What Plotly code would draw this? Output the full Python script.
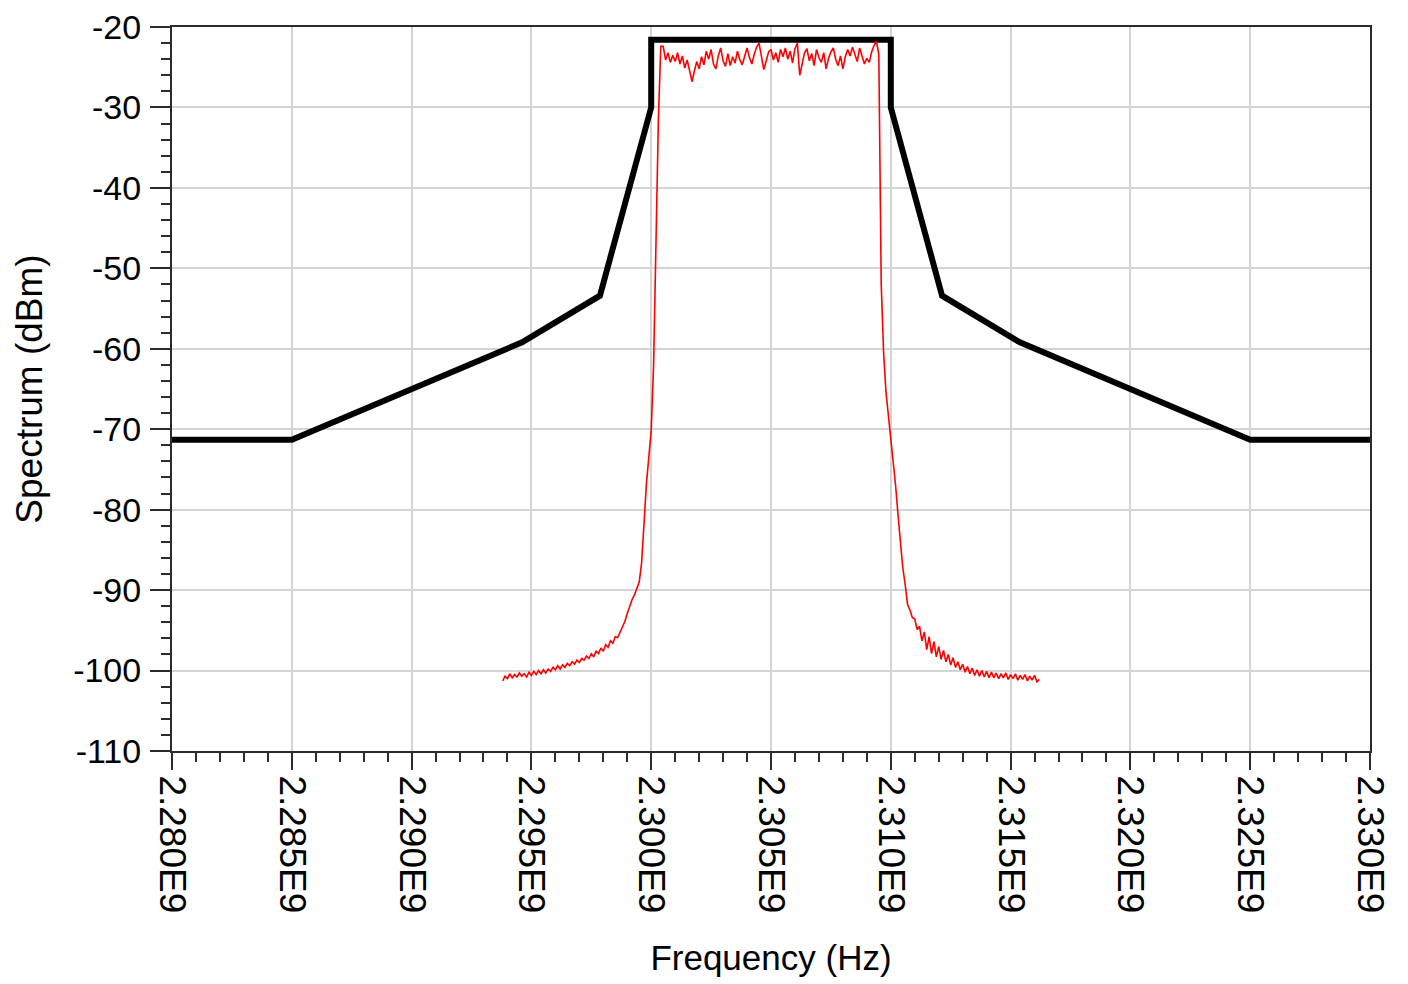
import numpy as np
import plotly.graph_objects as go

# ---- Data ----
# Spectrum mask (black), frequency in MHz, level in dBm
mask_freq_mhz = [2280.0, 2285.0, 2294.61, 2297.86, 2300.0, 2300.0,
                 2310.0, 2310.0, 2312.14, 2315.39, 2325.0, 2330.0]
mask_dbm = [-71.3, -71.3, -59.2, -53.4, -30.0, -21.6,
            -21.6, -30.0, -53.4, -59.2, -71.3, -71.3]

# Measured spectrum (red), sampled every 0.1 MHz from 2293.8 MHz
red_start_mhz = 2293.8
red_step_mhz = 0.1
red_left_skirt = [
    -101.3, -100.7, -101.0, -100.4, -100.9, -100.5, -100.8, -100.3, -100.7, -100.4,
    -100.8, -100.2, -100.6, -100.1, -100.5, -100.0, -100.4, -99.9, -100.3, -99.8,
    -100.1, -99.6, -99.9, -99.4, -99.8, -99.3, -99.6, -99.1, -99.4, -98.9,
    -99.2, -98.7, -99.0, -98.5, -98.7, -98.2, -98.5, -97.9, -98.3, -97.6,
    -97.9, -97.2, -97.6, -96.8, -97.1, -96.3, -96.6, -95.8, -95.9, -95.2,
    -94.6, -93.9, -92.9, -91.9, -91.2, -90.6, -89.9, -89.0, -86.6, -81.5,
    -76.8, -73.5, -70.2,
]
red_rise = [-62.0, -48.5, -31.5, -22.4]
red_top = [
    -22.4, -24.1, -23.2, -24.4, -23.5, -24.3, -23.2, -24.6, -23.6, -25.1,
    -24.1, -25.4, -26.8, -25.5, -24.3, -25.2, -23.7, -24.7, -23.0, -24.0,
    -22.8, -24.6, -25.2, -23.6, -22.6, -24.2, -24.9, -23.3, -24.8, -23.7,
    -24.5, -23.0, -24.1, -24.7, -23.5, -22.6, -23.8, -24.6, -23.4, -22.5,
    -22.0, -23.6, -25.3, -24.2, -23.1, -22.8, -24.1, -23.2, -24.4, -22.8,
    -23.7, -22.6, -24.0, -23.0, -24.5, -22.7, -22.0, -26.0, -24.6, -23.2,
    -22.7, -24.2, -23.3, -24.8, -22.8, -23.8, -24.4, -23.2, -25.2, -23.9,
    -23.1, -22.6, -24.0, -24.8, -23.6, -25.2, -23.7, -22.8, -23.6, -22.5,
    -23.4, -24.3, -22.6, -23.7, -24.6, -23.9, -24.4, -23.1, -22.3, -21.8,
    -23.4,
]
red_fall = [-52.0, -60.5, -65.4, -68.2]
red_right_skirt = [
    -71.0, -74.3, -77.0, -80.6, -84.1, -87.2, -89.3, -91.8, -92.5, -93.4,
    -93.6, -94.9, -94.5, -96.3, -95.2, -97.4, -95.8, -97.9, -96.4, -98.3,
    -97.0, -98.6, -97.5, -98.9, -98.0, -99.3, -98.4, -99.6, -98.9, -99.9,
    -99.2, -100.2, -99.5, -100.4, -99.7, -100.6, -99.9, -100.7, -100.0, -100.8,
    -100.1, -100.9, -100.2, -100.9, -100.3, -101.0, -100.4, -100.9, -100.3, -101.1,
    -100.5, -101.0, -100.4, -101.2, -100.6, -101.1, -100.5, -101.3, -100.7, -101.2,
    -100.6, -101.4, -101.1,
]

x_tick_vals_hz = [2.280e9, 2.285e9, 2.290e9, 2.295e9, 2.300e9, 2.305e9,
                  2.310e9, 2.315e9, 2.320e9, 2.325e9, 2.330e9]
x_tick_text = ["2.280E9", "2.285E9", "2.290E9", "2.295E9", "2.300E9", "2.305E9",
               "2.310E9", "2.315E9", "2.320E9", "2.325E9", "2.330E9"]
y_tick_vals = [-20, -30, -40, -50, -60, -70, -80, -90, -100, -110]
y_tick_text = ["-20", "-30", "-40", "-50", "-60", "-70", "-80", "-90", "-100", "-110"]

# ---- Build series ----
red_dbm = red_left_skirt + red_rise + red_top + red_fall + red_right_skirt
red_freq_hz = [round(red_start_mhz + red_step_mhz * i, 1) * 1e6 for i in range(len(red_dbm))]
mask_freq_hz = [f * 1e6 for f in mask_freq_mhz]

FONT = "Liberation Sans, Arial, sans-serif"
AXIS_COLOR = "#2b2b2b"

fig = go.Figure()
fig.add_trace(go.Scatter(
    x=mask_freq_hz, y=mask_dbm, mode="lines",
    line=dict(color="black", width=6), showlegend=False, hoverinfo="skip"))
fig.add_trace(go.Scatter(
    x=red_freq_hz, y=red_dbm, mode="lines",
    line=dict(color="#ff0000", width=1.6), showlegend=False))

# page body has an 8px margin, so the figure is sized to the visible area
fig.update_layout(
    width=1400, height=976,
    margin=dict(l=164, r=38, t=19, b=233),
    paper_bgcolor="white", plot_bgcolor="white",
    font=dict(family=FONT, color="black"),
)
fig.update_xaxes(
    range=[2.280e9, 2.330e9], automargin=False, ticklabeloverflow="allow",
    tickmode="array", tickvals=x_tick_vals_hz, ticktext=x_tick_text,
    tickangle=90, tickfont=dict(size=37, family=FONT, color="black"),
    ticks="outside", ticklen=17, tickwidth=2, tickcolor=AXIS_COLOR,
    ticklabelstandoff=-2,
    minor=dict(dtick=1e6, ticks="outside", ticklen=9, tickwidth=2,
               tickcolor=AXIS_COLOR, showgrid=False),
    showgrid=True, gridcolor="#d4d4d4", gridwidth=1.5,
    showline=True, linecolor=AXIS_COLOR, linewidth=2, mirror=True,
    zeroline=False,
    title=dict(text="Frequency (Hz)", font=dict(size=35, family=FONT, color="black"),
               standoff=33),
)
fig.update_yaxes(
    range=[-110, -20], automargin=False, ticklabeloverflow="allow",
    tickmode="array", tickvals=y_tick_vals, ticktext=y_tick_text,
    tickfont=dict(size=34, family=FONT, color="black"),
    ticks="outside", ticklen=20, tickwidth=2, tickcolor=AXIS_COLOR,
    ticklabelstandoff=2,
    minor=dict(dtick=2, ticks="outside", ticklen=9, tickwidth=2,
               tickcolor=AXIS_COLOR, showgrid=False),
    showgrid=True, gridcolor="#d4d4d4", gridwidth=1.5,
    showline=True, linecolor=AXIS_COLOR, linewidth=2, mirror=True,
    zeroline=False,
    title=dict(text="Spectrum (dBm)", font=dict(size=37, family=FONT, color="black"),
               standoff=19),
)

fig.write_html("out.html")
